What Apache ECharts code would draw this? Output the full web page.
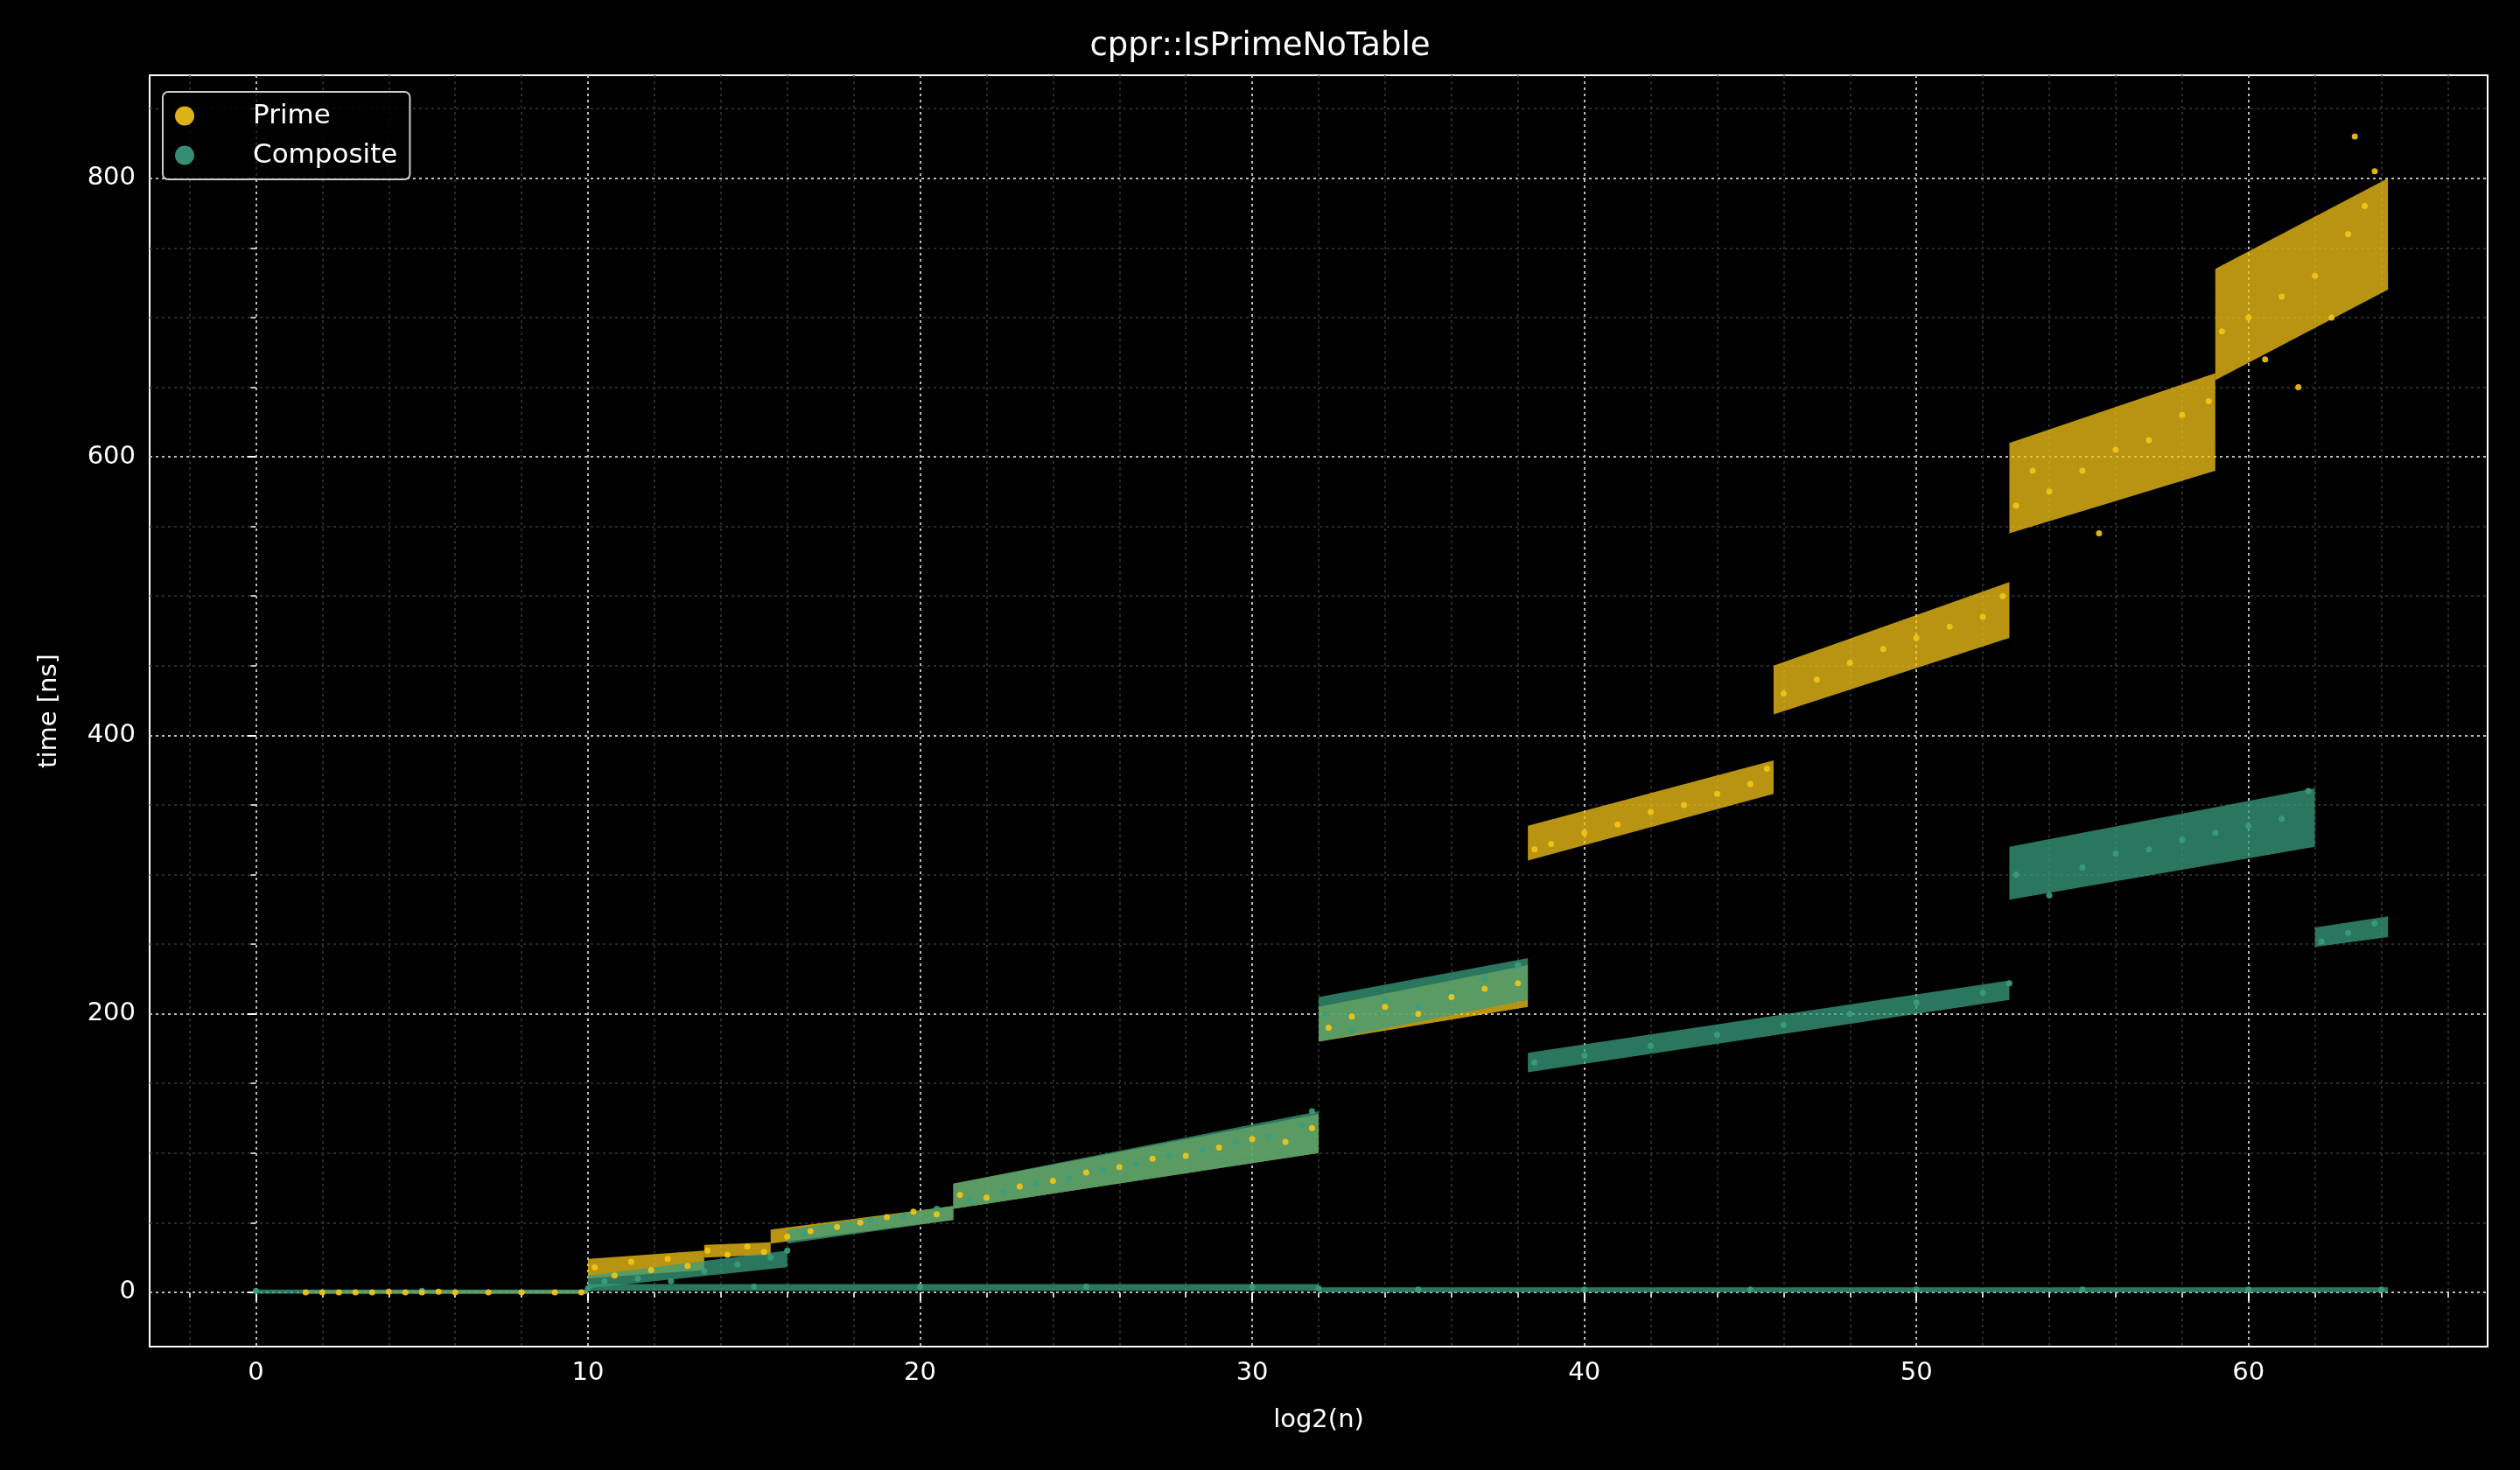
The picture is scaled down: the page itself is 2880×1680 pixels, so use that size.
<!DOCTYPE html>
<html><head><meta charset="utf-8">
<script src="https://cdn.jsdelivr.net/npm/echarts@6/dist/echarts.min.js"></script>
<style>html,body{margin:0;background:#000}#c{width:2880px;height:1680px}</style>
</head><body><div id="c"></div>
<script>
// bands: [x0, x1, lo0, hi0, lo1, hi1]
const primeBands = [
  [1.5,10,-1,1.5,-1,1.5],[10,13.5,10,24,16,30],[13.5,15.5,25,34,27,36],
  [15.5,21,35,45,52,62],[21,32,60,78,100,128],[32,38.3,180,205,205,235],
  [38.3,45.7,310,335,358,382],[45.7,52.8,415,450,470,510],
  [52.8,59,545,610,590,660],[59,64.2,655,735,720,800]
];
const compositeBands = [
  [0,10,-1,2,-1,2],[10,32,1,6,1,6],[32,64.2,0,3.5,0,3.5],[10,16,3,12,18,30],
  [16,21,35,45,52,62],[21,32,60,78,100,130],[32,38.3,180,212,210,240],
  [38.3,52.8,158,172,210,224],[52.8,62,282,320,320,362],[62,64.2,248,262,255,270]
];
const primePoints = [[1.5,0],[2,0],[2.5,0],[3,0],[3.5,0],[4,0.5],[4.5,0],[5,0],[5.5,0.5],[6,0],[7,0],[8,0],[9,0],[9.8,0],
  [10.2,18],[10.8,12],[11.3,22],[11.9,16],[12.4,24],[13,19],[13.6,30],[14.2,27],[14.8,33],[15.3,29],[16,40],[16.7,44],
  [17.5,47],[18.2,50],[19,54],[19.8,58],[20.5,56],[21.2,70],[22,68],[23,76],[24,80],[25,86],[26,90],[27,96],[28,98],
  [29,104],[30,110],[31,108],[31.8,118],[32.3,190],[33,198],[34,205],[35,200],[36,212],[37,218],[38,222],[38.5,318],
  [39,322],[40,330],[41,336],[42,345],[43,350],[44,358],[45,365],[45.5,376],[46,430],[47,440],[48,452],[49,462],
  [50,470],[51,478],[52,485],[52.6,500],[53,565],[53.5,590],[54,575],[55,590],[55.5,545],[56,605],[57,612],[58,630],
  [58.8,640],[59.2,690],[60,700],[60.5,670],[61,715],[62,730],[62.5,700],[63,760],[63.5,780],[63.8,805],[63.2,830],[61.5,650]];
const compositePoints = [[0,1],[5,1],[10,3],[15,4],[20,4],[25,4],[30,4],[32,3],[35,2],[40,2],[45,2],[50,2],[55,2],[60,2],[64,2],
  [10.5,8],[11.5,10],[12.5,8],[13.5,15],[14.5,20],[15.5,25],[16,30],[16.5,42],[17.5,46],[18.5,52],[19.5,55],[20.5,60],
  [21.5,66],[22.5,72],[23.5,78],[24.5,82],[25.5,88],[26.5,92],[27.5,98],[28.5,102],[29.5,108],[30.5,112],[31.5,120],
  [31.8,130],[32.2,200],[33,188],[34,210],[35,205],[36,215],[37,225],[38,235],[38.5,165],[40,170],[42,177],[44,185],
  [46,192],[48,200],[50,208],[52,215],[52.8,222],[53,300],[54,285],[55,305],[56,315],[57,318],[58,325],[59,330],
  [60,335],[61,340],[61.8,360],[62.2,252],[63,258],[63.8,265]];

const xMajor = [0, 10, 20, 30, 40, 50, 60];
const xMinor = [-2, 2, 4, 6, 8, 12, 14, 16, 18, 22, 24, 26, 28, 32, 34, 36, 38, 42, 44, 46, 48, 52, 54, 56, 58, 62, 64, 66];
const yMajor = [0, 200, 400, 600, 800];
const yMinor = [50, 100, 150, 250, 300, 350, 450, 500, 550, 650, 700, 750, 850];

const PRIME = '#f5c518', COMP = '#3a9e7e';
const font = 'DejaVu Sans';

function bandSeries(name, data, color) {
  return {
    type: 'custom', name: name, data: data, silent: true,
    renderItem: function (params, api) {
      const p = [
        api.coord([api.value(0), api.value(2)]), api.coord([api.value(1), api.value(4)]),
        api.coord([api.value(1), api.value(5)]), api.coord([api.value(0), api.value(3)])
      ];
      return { type: 'polygon', shape: { points: p }, style: { fill: color, opacity: 0.75 } };
    },
    encode: { x: [0, 1], y: [2, 3, 4, 5] }
  };
}

function majorAxis(pos, min, max, ticks, name, gap) {
  return {
    type: 'value', position: pos, offset: 0, min: min, max: max, name: name, nameLocation: 'middle', nameGap: gap,
    nameTextStyle: { color: '#fff', fontSize: 29, fontFamily: font },
    axisLine: { show: false },
    axisTick: { show: true, length: 10, customValues: ticks, lineStyle: { color: '#fff', width: 2 } },
    axisLabel: { color: '#fff', fontSize: 29, fontFamily: font, margin: 16, customValues: ticks },
    splitLine: { show: true, lineStyle: { color: '#bbb', width: 2, type: [3, 4] } }
  };
}
function minorAxis(pos, min, max, ticks) {
  return {
    type: 'value', position: pos, offset: 0, min: min, max: max, axisLine: { show: false },
    axisTick: { show: true, length: 6, customValues: ticks, lineStyle: { color: '#fff', width: 1.5 } },
    axisLabel: { show: false, customValues: ticks },
    splitLine: { show: true, lineStyle: { color: '#3a3a3a', width: 1.5, type: [3, 4] } }
  };
}

const chart = echarts.init(document.getElementById('c'));
chart.setOption({
  backgroundColor: '#000',
  animation: false,
  title: { text: 'cppr::IsPrimeNoTable', left: 'center', top: 30,
    textStyle: { color: '#fff', fontSize: 37, fontWeight: 'normal', fontFamily: font } },
  grid: { left: 171, right: 37, top: 86, bottom: 141, show: true, borderColor: '#fff', borderWidth: 2,
    containLabel: false, outerBoundsMode: 'none' },
  legend: {
    data: ['Prime', 'Composite'], orient: 'vertical', left: 186, top: 105,
    backgroundColor: 'rgba(0,0,0,0.8)', borderColor: '#ccc', borderWidth: 2, borderRadius: 6,
    padding: [12, 14], itemGap: 14, icon: 'circle', itemWidth: 22, itemHeight: 22,
    textStyle: { color: '#fff', fontSize: 31, fontFamily: font, padding: [0, 0, 0, 62] }
  },
  xAxis: [minorAxis('bottom', -3.2, 67.2, xMinor), majorAxis('bottom', -3.2, 67.2, xMajor, 'log2(n)', 70)],
  yAxis: [minorAxis('left', -39, 874, yMinor), majorAxis('left', -39, 874, yMajor, 'time [ns]', 100)],
  series: [
    bandSeries('pb', primeBands, PRIME),
    bandSeries('cb', compositeBands, COMP),
    { type: 'scatter', name: 'Composite', data: compositePoints, symbolSize: 7, itemStyle: { color: COMP, opacity: 0.9 } },
    { type: 'scatter', name: 'Prime', data: primePoints, symbolSize: 7, itemStyle: { color: PRIME, opacity: 0.9 } }
  ]
});
</script></body></html>
